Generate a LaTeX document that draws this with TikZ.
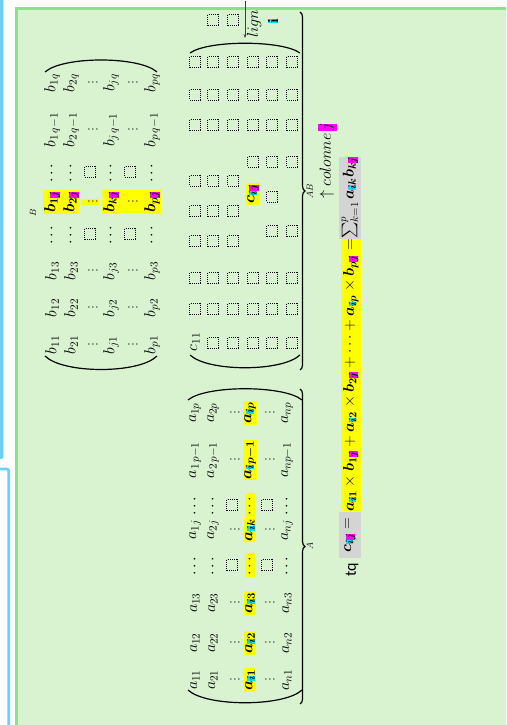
\RequirePackage{fix-cm}
\documentclass[tikz,border=0pt]{standalone}
\usepackage{amsmath,amssymb,bm}
\usepackage{fontspec}
\newfontfamily\tqfont{Carlito}
\usepackage{tikz}
\usetikzlibrary{positioning,decorations.pathreplacing,arrows.meta}

\definecolor{framegreen}{HTML}{8EE08E}
\definecolor{fillgreen}{HTML}{D9F2D0}
\definecolor{sideblue}{HTML}{6DCFF6}
\definecolor{hlyellow}{HTML}{FFFF00}
\definecolor{icyan}{HTML}{00E5F0}
\definecolor{jmag}{HTML}{FF00FF}
\definecolor{hlgray}{HTML}{D4D4D4}

\newcommand{\isub}{{\setlength{\fboxsep}{0pt}\colorbox{icyan}{$\scriptstyle\bm{i}$}}}
\newcommand{\jsub}{{\setlength{\fboxsep}{0pt}\colorbox{jmag}{$\scriptstyle\bm{j}$}}}
\newcommand{\ba}[1]{\bm{a}_{\isub\bm{#1}}}
\newcommand{\bb}[1]{\bm{b}_{\bm{#1}\jsub}}

\begin{document}
\begin{tikzpicture}[x=1pt, y=1pt,
  ent/.style={inner sep=0pt, font=\fontsize{16}{19}\selectfont},
  hl/.style={ent, fill=hlyellow, inner sep=1pt},
  ph/.style={draw, dash pattern=on 1pt off 1.1pt, line width=1pt, minimum size=10.5pt, inner sep=0pt},
  paren/.style={line width=1.2pt},
  brc/.style={decorate, decoration={brace, mirror, amplitude=5pt}, line width=1.2pt},
  lbl/.style={inner sep=0pt, font=\fontsize{9}{10}\selectfont},
  sumbox/.style={inner sep=0pt, anchor=south west, font=\fontsize{15.5}{18}\selectfont}
]
\useasboundingbox (0,0) rectangle (506,725);
\clip (0,0) rectangle (506,725);

% frames
\fill[sideblue, rounded corners=1.5pt] (-3,266) rectangle (3.3,730);
\draw[sideblue, line width=2.7pt, rounded corners=2pt] (-3,256) -- (8.7,256) -- (8.7,-5);
\draw[framegreen, fill=fillgreen, line width=3pt] (16.5,-10) rectangle (520,716);

\begin{scope}[shift={(506,0)}, rotate=90, transform shape]

% matrix A
\draw[paren] (35,318) .. controls (18,300) and (18,222) .. (35,204);
\draw[paren] (325,318) .. controls (340,300) and (340,222) .. (325,204);
\foreach \x/\e [count=\c] in {45/a_{11},82/a_{12},122/a_{13},160/\cdots,195/a_{1j},220/\cdots,265/a_{1\,p-1},312/a_{1p}}
  \node[ent] (A1\c) at (\x,311) {$\e$};
\foreach \x/\e [count=\c] in {45/a_{21},82/a_{22},122/a_{23},160/\cdots,195/a_{2j},220/\cdots,265/a_{2\,p-1},312/a_{2p}}
  \node[ent] (A2\c) at (\x,293) {$\e$};
\foreach \y/\r in {274/3,239/5} {
  \foreach \x [count=\c] in {45,82,122,195,265,312}
    \node[ent] (A\r v\c) at (\x,\y) {$\vdots$};
  \foreach \x [count=\c] in {160,220}
    \node[ph] (A\r s\c) at (\x,\y) {};
}
\foreach \x/\e [count=\c] in {45/\ba{1},82/\ba{2},122/\ba{3},160/\cdots,195/\ba{k},220/\cdots,265/\ba{p-1},312/\ba{p}}
  \node[hl] (A4\c) at (\x,256) {$\e$};
\foreach \x/\e [count=\c] in {45/a_{n1},82/a_{n2},122/a_{n3},160/\cdots,195/a_{nj},220/\cdots,265/a_{np-1},312/a_{np}}
  \node[ent] (A6\c) at (\x,219) {$\e$};
\draw[brc] (21,206) -- node[lbl, below=6pt] (Alab) {$A$} (336,206);

% matrix AB
\draw[paren] (370,316) .. controls (353,298) and (353,224) .. (370,206);
\draw[paren] (672,316) .. controls (685,298) and (685,224) .. (672,206);
\node[ent] (C11) at (383,311) {$c_{11}$};
\foreach \x [count=\c] in {416,447,484,514,544,600,630,663}
  \node[ph] (C1s\c) at (\x,311) {};
\foreach \y/\r in {293/2,273/3}
  \foreach \x [count=\c] in {382,416,447,484,514,544,600,630,663,705}
    \node[ph] (C\r s\c) at (\x,\y) {};
\foreach \x [count=\c] in {382,416,447,563,600,630,663}
  \node[ph] (C4s\c) at (\x,253) {};
\node[hl] (Cij) at (531,253) {$\bm{c}_{\isub\jsub}$};
\foreach \x [count=\c] in {382,416,447,494,528,563,600,630,663}
  \node[ph] (C5s\c) at (\x,234) {};
\foreach \x [count=\c] in {382,416,447,494,563,600,630,663}
  \node[ph] (C6s\c) at (\x,214) {};
\draw[brc] (355,206) -- node[lbl, below=6pt] (Clab) {$AB$} (713,206);

% matrix B
\draw[paren] (369,461) .. controls (351,443) and (351,367) .. (369,349);
\draw[paren] (653,461) .. controls (669,443) and (669,367) .. (653,349);
\fill[hlyellow] (512,345) rectangle (535,404);
\foreach \x/\e [count=\c] in {380/b_{11},417/b_{12},454/b_{13},491/\cdots,553/\cdots,595/b_{1\,q-1},642/b_{1q}}
  \node[ent] (B1\c) at (\x,454) {$\e$};
\foreach \x/\e [count=\c] in {380/b_{21},417/b_{22},454/b_{23},491/\cdots,553/\cdots,595/b_{2\,q-1},642/b_{2q}}
  \node[ent] (B2\c) at (\x,435) {$\e$};
\foreach \x/\e [count=\c] in {380/b_{j1},417/b_{j2},454/b_{j3},491/\cdots,553/\cdots,595/b_{j\,q-1},642/b_{jq}}
  \node[ent] (B4\c) at (\x,395) {$\e$};
\foreach \x/\e [count=\c] in {380/b_{p1},417/b_{p2},454/b_{p3},491/\cdots,553/\cdots,595/b_{p\,q-1},642/b_{pq}}
  \node[ent] (B6\c) at (\x,354) {$\e$};
\foreach \y/\r in {416/3,376/5} {
  \foreach \x [count=\c] in {380,417,454,595,642}
    \node[ent] (B\r v\c) at (\x,\y) {$\vdots$};
  \foreach \x [count=\c] in {491,553}
    \node[ph] (B\r s\c) at (\x,\y) {};
}
\node[hl] (B1j) at (523,454) {$\bb{1}$};
\node[hl] (B2j) at (523,435) {$\bb{2}$};
\node[hl] (B3j) at (523,416) {$\vdots$};
\node[hl] (B4j) at (523,395) {$\bb{k}$};
\node[hl] (B5j) at (523,376) {$\vdots$};
\node[hl] (B6j) at (523,354) {$\bb{p}$};
\node[lbl] (Blab) at (512,473) {$B$};

% line and column marks
\node[ent] (lign) at (701,252) {$lign$};
\coordinate (lignarr) at (724,261);
\draw[-{Stealth[length=4pt,width=3pt]}, line width=0.8pt, black!75] (lignarr) -- (lignarr -| lign.west);
\node[fill=icyan, inner sep=0pt, font=\bfseries\fontsize{15}{17}\selectfont] (ilab) at (704,233) {i};
\node[ent, anchor=west] (col) at (526,179) {$\uparrow colonne$\,{\setlength{\fboxsep}{0pt}\colorbox{jmag}{\strut$j$}}};

% formula
\node[inner sep=0pt, font={\tqfont\fontsize{16}{19}\selectfont}] (tq) at (155,154) {tq};
\node[sumbox, fill=hlgray, minimum width=46pt, minimum height=22pt] (cij) at (167,145) {$\bm{c}_{\isub\jsub}=$};
\node[sumbox, fill=hlyellow, minimum width=271pt, minimum height=20pt] (prod) at (cij.south east)
  {$\ba{1}\times\bb{1}+\ba{2}\times\bb{2}+\cdots+\ba{p}\times\bb{p}=$};
\node[sumbox, fill=hlgray, minimum width=79pt, minimum height=22pt] (sum) at (prod.south east)
  {$\sum_{k=1}^{p}\bm{a}_{\isub\bm{k}}\bm{b}_{\bm{k}\jsub}$};

\end{scope}
\end{tikzpicture}
\end{document}
